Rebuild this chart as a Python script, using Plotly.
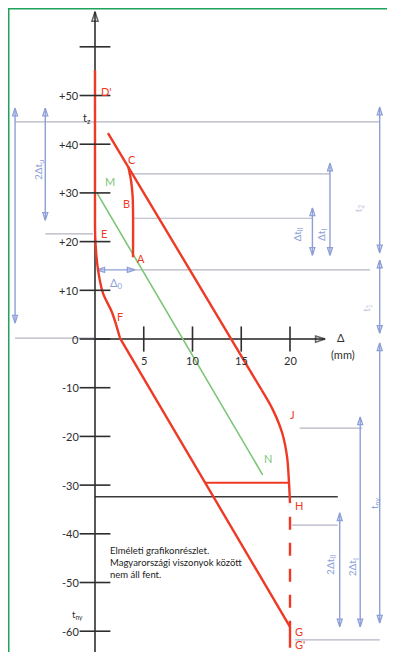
import plotly.graph_objects as go

# ---------------- data (Δ in mm, t in °C) ----------------
t_ticks = [60, 50, 40, 30, 20, 10, 0, -10, -20, -30, -40, -50, -60]
t_tick_labels = ["", "+50", "+40", "+30", "+20", "+10", "0", "-10", "-20", "-30", "-40", "-50", "-60"]
d_ticks = [5, 10, 15, 20]
d_tick_labels = ["5", "10", "15", "20"]

# red curves
dprime_e_delta = [0, 0]
dprime_e_temp = [55.2, 23.4]
e_f_delta = [0, 0.05, 0.31, 0.82, 1.74, 2.56]
e_f_temp = [23.4, 19.7, 14.2, 9.4, 5.5, 0.2]
f_g_delta = [2.56, 20]
f_g_temp = [0.2, -59.1]
c_j_delta = [1.33, 17.1]
c_j_temp = [42.3, -10.5]
j_h_delta = [17.1, 18.26, 19.2, 19.7, 19.9, 20]
j_h_temp = [-10.5, -14.6, -19.3, -24.2, -29.6, -33.7]
c_b_a_delta = [3.42, 3.69, 3.85, 3.9, 3.9]
c_b_a_temp = [35.3, 32.6, 29.6, 26.5, 16.8]
step_delta = [11.3, 19.9]
step_temp = [-29.5, -29.5]
h_g_delta = [20, 20]
h_g_temp = [-36.5, -59.1]
g_gp_delta = [20, 20]
g_gp_temp = [-59.1, -63.4]
# green line M-N
m_n_delta = [0.2, 17.2]
m_n_temp = [30.0, -27.9]
# black limit line
limit_delta = [0, 24.9]
limit_temp = [-32.4, -32.4]
# axes extent
t_axis_range = [-66.0, 67.2]
d_axis_range = [0, 23.6]

# point letters
pt_names = ["D'", "C", "B", "A", "E", "F", "J", "H", "G", "G'"]
pt_delta = [1.2, 3.79, 3.18, 4.72, 0.92, 2.56, 20.3, 20.9, 20.9, 21.0]
pt_temp = [50.8, 36.8, 27.9, 16.6, 21.6, 4.7, -15.4, -34.1, -60.0, -62.7]
green_names = ["M", "N"]
green_delta = [1.54, 17.7]
green_temp = [32.4, -24.6]

# dimension arrows: (Δ position, t top, t bottom)
dim_delta = [-8.2, -5.1, 24.1, 22.3, 29.2, 29.2, 29.2, 27.2, 25.1]
dim_t1 = [47.4, 47.4, 36.1, 26.9, 47.6, 16.2, -0.8, -16.0, -35.7]
dim_t2 = [3.3, 24.4, 17.2, 17.2, 17.7, 1.2, -58.3, -59.1, -59.1]
# Δ0 arrow
d0_delta = [0.2, 4.1]
d0_temp = [14.2, 14.2]
# extension lines: (Δ from, Δ to, t)
ext_d1 = [-8.2, -8.2, -5.1, 3.4, 3.9, 4.1, 21.0, 20.2, 20.5]
ext_d2 = [29.2, 0, -0.2, 24.1, 22.3, 28.2, 27.4, 24.9, 29.2]
ext_t = [44.6, 0.2, 21.6, 33.9, 24.8, 14.2, -18.3, -38.2, -61.8]

# dimension labels
dim_labels = ["2Δt<sub>u</sub>", "Δt<sub>II</sub>", "Δt<sub>I</sub>", "t<sub>2</sub>", "t<sub>1</sub>",
              "t<sub>ny</sub>", "2Δt<sub>II</sub>", "2Δt<sub>I</sub>"]
dim_label_delta = [-5.85, 20.8, 23.3, 27.0, 27.9, 28.6, 24.2, 26.5]
dim_label_temp = [34.7, 21.4, 21.4, 26.9, 6.4, -33.7, -46.4, -46.8]

note_lines = ["Elméleti grafikonrészlet.", "Magyarországi viszonyok között", "nem áll fent."]

# ---------------- styling ----------------
RED = "#ee3a24"
GREEN = "#7cc576"
BLUE = "#8d9fd6"
GREY = "#b4b4c4"
INK = "#2e2e2e"
FONT = "Lato"

fig = go.Figure()


def red(x, y, shape="linear", dash="solid", width=2.4):
    fig.add_trace(go.Scatter(x=x, y=y, mode="lines",
                             line=dict(color=RED, width=width, shape=shape, dash=dash),
                             hoverinfo="skip"))


# extension (reference) lines
for a, b, t in zip(ext_d1, ext_d2, ext_t):
    fig.add_trace(go.Scatter(x=[a, b], y=[t, t], mode="lines",
                             line=dict(color=GREY, width=1.2), hoverinfo="skip"))

# dimension arrows
for d, t1, t2 in zip(dim_delta, dim_t1, dim_t2):
    fig.add_trace(go.Scatter(x=[d, d], y=[t1, t2], mode="lines+markers",
                             line=dict(color=BLUE, width=1.4),
                             marker=dict(symbol="arrow-open", size=8, angle=[0, 180],
                                         color=BLUE, line=dict(color=BLUE, width=1.3)),
                             hoverinfo="skip"))
fig.add_trace(go.Scatter(x=d0_delta, y=d0_temp, mode="lines+markers",
                         line=dict(color=BLUE, width=1.4),
                         marker=dict(symbol="arrow-open", size=8, angle=[270, 90],
                                     color=BLUE, line=dict(color=BLUE, width=1.3)),
                         hoverinfo="skip"))

# black limit line
fig.add_trace(go.Scatter(x=limit_delta, y=limit_temp, mode="lines",
                         line=dict(color="#3a3a3a", width=1.6), hoverinfo="skip"))

# axes
fig.add_trace(go.Scatter(x=[0, 0], y=t_axis_range, mode="lines+markers",
                         line=dict(color="#222", width=1.5),
                         marker=dict(symbol="arrow-open", size=[0, 10], angle=[180, 0],
                                     color="#222", line=dict(color="#222", width=1.5)),
                         hoverinfo="skip"))
fig.add_trace(go.Scatter(x=d_axis_range, y=[0, 0], mode="lines+markers",
                         line=dict(color="#222", width=1.5),
                         marker=dict(symbol="arrow-open", size=[0, 10], angle=[270, 90],
                                     color="#222", line=dict(color="#222", width=1.5)),
                         hoverinfo="skip"))

# green
fig.add_trace(go.Scatter(x=m_n_delta, y=m_n_temp, mode="lines",
                         line=dict(color=GREEN, width=1.6), hoverinfo="skip"))

# red curves
red(dprime_e_delta, dprime_e_temp)
red(e_f_delta, e_f_temp, shape="spline")
red(f_g_delta, f_g_temp)
red(c_j_delta, c_j_temp)
red(j_h_delta, j_h_temp, shape="spline")
red(c_b_a_delta, c_b_a_temp, shape="spline")
red(step_delta, step_temp, width=2)
red(h_g_delta, h_g_temp, dash="13px,13px")
red(g_gp_delta, g_gp_temp)

# tick marks
fig.add_trace(go.Scatter(x=[0] * len(t_ticks), y=t_ticks, mode="markers",
                         marker=dict(symbol="line-ew", size=22, line=dict(color=INK, width=1.6)),
                         hoverinfo="skip"))
fig.add_trace(go.Scatter(x=d_ticks, y=[0] * len(d_ticks), mode="markers",
                         marker=dict(symbol="line-ns", size=18, line=dict(color=INK, width=1.6)),
                         hoverinfo="skip"))

ann = []


def label(x, y, text, color=INK, size=11, angle=0, xanchor="center"):
    ann.append(dict(x=x, y=y, xref="x", yref="y", text=text, showarrow=False,
                    textangle=angle, xanchor=xanchor,
                    font=dict(family=FONT, size=size, color=color)))


# tick labels
for t, lab in zip(t_ticks, t_tick_labels):
    if lab:
        label(-1.45, t, lab, xanchor="right")
for d, lab in zip(d_ticks, d_tick_labels):
    label(d, -4.5, lab)
# point letters
for n, d, t in zip(pt_names, pt_delta, pt_temp):
    label(d, t, n, color=RED)
for n, d, t in zip(green_names, green_delta, green_temp):
    label(d, t, n, color=GREEN)
# dimension labels
for lab, d, t in zip(dim_labels, dim_label_delta, dim_label_temp):
    faint = lab in ("t<sub>2</sub>", "t<sub>1</sub>")
    label(d, t, lab, color="#c3c8dc" if faint else BLUE, size=10, angle=-90)
label(2.15, 11.5, "Δ<sub>0</sub>", color=BLUE)
# axis texts
label(-0.8, 45.2, "t<sub>z</sub>")
label(-1.75, -56.6, "t<sub>ny</sub>", size=9.5)
label(24.6, 0.4, "Δ", xanchor="left")
label(24.0, -3.2, "(mm)", xanchor="left")
# note
for i, line in enumerate(note_lines):
    label(1.35, -43.4 - i * 2.5, line, color="#222", size=9.5, xanchor="left")

# page body has an 8px margin: the figure is 16px smaller and the ranges are shifted
fig.update_layout(
    width=379, height=644,
    margin=dict(l=0, r=0, t=0, b=0),
    paper_bgcolor="white", plot_bgcolor="white",
    showlegend=False,
    xaxis=dict(range=[-8.923, 29.949], visible=False, fixedrange=True),
    yaxis=dict(range=[-64.27, 67.97], visible=False, fixedrange=True),
    annotations=ann,
    shapes=[
        dict(type="line", xref="paper", yref="paper", x0=0, x1=0, y0=0, y1=1,
             line=dict(color="#1fa35a", width=3)),
        dict(type="line", xref="paper", yref="paper", x0=0, x1=1, y0=1, y1=1,
             line=dict(color="#1fa35a", width=3)),
    ],
)

fig.write_html("out.html")
